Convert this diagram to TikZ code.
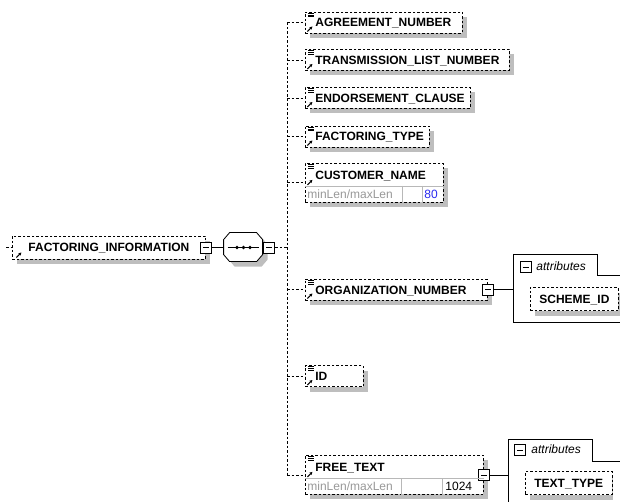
\documentclass[tikz,border=0pt]{standalone}
\usepackage{fontspec}
\setsansfont{Liberation Sans}
\usetikzlibrary{arrows.meta}
\usetikzlibrary{calc}
\usetikzlibrary{positioning}

\definecolor{shadowgray}{HTML}{BEBEBE}
\definecolor{facetgray}{HTML}{999999}
\definecolor{facetblue}{HTML}{2A2AF0}

\begin{document}
\begin{tikzpicture}[x=1pt, y=-1pt, line width=0.8pt,
    elemframe/.style = {draw, dash pattern=on 2.5pt off 2pt, fill=white},
    elemtext/.style = {font=\sffamily\bfseries\fontsize{12}{14}\selectfont, inner xsep=10pt, inner ysep=0pt, text height=9pt, text depth=0pt},
    boxw/.style = {minimum width=#1, text width=#1-20pt},
    icons/.style = {path picture={
        \foreach \dy in {1.2, 3, 4.8}
            \draw[solid, line width=0.6pt] ([shift={(3pt,-\dy pt)}]path picture bounding box.north west) -- ++(6pt,0pt);
        \draw[solid, line width=1pt, -{Stealth[length=3pt, width=3.2pt]}] ([shift={(2pt,1.5pt)}]path picture bounding box.south west) -- ++(5pt,5pt);}},
    refarrow/.style = {path picture={
        \draw[solid, line width=1pt, -{Stealth[length=3pt, width=3.2pt]}] ([shift={(4pt,1.5pt)}]path picture bounding box.south west) -- ++(5pt,5pt);}},
    shadowbox/.style = {fill=shadowgray, draw=none, inner sep=0pt, anchor=west},
    elem/.style = {elemframe, elemtext, icons, minimum height=21pt, anchor=west},
    attr/.style = {elemframe, elemtext, inner xsep=9pt, minimum height=23pt, anchor=west},
    minusbox/.style = {draw, solid, fill=white, minimum width=11pt, minimum height=11pt, inner sep=0pt,
        path picture={\draw[solid] ([xshift=2.5pt]path picture bounding box.west) -- ([xshift=-2.5pt]path picture bounding box.east);}},
    seqbox/.style = {minimum width=39pt, minimum height=29pt, inner sep=0pt},
    facetkey/.style = {font=\sffamily\fontsize{12}{14}\selectfont, text=facetgray, anchor=west, inner xsep=2pt, inner ysep=0pt},
    facetval/.style = {font=\sffamily\fontsize{12}{14}\selectfont, anchor=west, inner xsep=2pt, inner ysep=0pt},
    cellline/.style = {draw=facetgray!70, solid, line width=0.6pt},
    tabtext/.style = {font=\sffamily\itshape\fontsize{12}{14}\selectfont, anchor=west, inner sep=0pt},
    branch/.style = {dash pattern=on 2.5pt off 2pt},
    wire/.style = {solid}]

    \useasboundingbox (0,0) rectangle (620,502);

    \node[shadowbox, minimum width=193pt, minimum height=23pt] (facinfoshadow) at (17,252.5) {};
    \node[elemframe, elemtext, refarrow, minimum width=193pt, minimum height=23pt, anchor=west] (facinfo) at (12,247.5) {FACTORING\_INFORMATION};
    \node[minusbox] (facinfominus) at (facinfo.east) {};
    \node[seqbox] (seq) at (243.5,247.5) {};
    \fill[shadowgray] ([shift={(5pt,-5pt)}]seq.north west) ++(6,0) -- ++(27,0) -- ++(6,7) -- ++(0,15) -- ++(-6,7) -- ++(-27,0) -- ++(-6,-7) -- ++(0,-15) -- cycle;
    \draw[fill=white] (seq.north west) ++(6,0) -- ++(27,0) -- ++(6,7) -- ++(0,15) -- ++(-6,7) -- ++(-27,0) -- ++(-6,-7) -- ++(0,-15) -- cycle;
    \draw (seq.west) ++(4,0) -- ++(31,0);
    \foreach \dx in {-6.5, 0, 6.5}
        \fill ([xshift=\dx pt]seq.center) circle (1.8pt);
    \node[minusbox, right=0pt of seq] (seqminus) {};
    \coordinate (rootin) at (6,247.5);
    \coordinate (spine) at (287,0);

    \node[shadowbox, minimum width=157pt, minimum height=21pt] (agreeshadow) at (310,27.5) {};
    \node[elem, boxw=157pt] (agree) at (305,22.5) {AGREEMENT\_NUMBER};
    \node[shadowbox, minimum width=204pt, minimum height=21pt] (translistshadow) at (310,65) {};
    \node[elem, boxw=204pt] (translist) at (305,60) {TRANSMISSION\_LIST\_NUMBER};
    \node[shadowbox, minimum width=165pt, minimum height=21pt] (endorseshadow) at (310,103) {};
    \node[elem, boxw=165pt] (endorse) at (305,98) {ENDORSEMENT\_CLAUSE};
    \node[shadowbox, minimum width=124pt, minimum height=21pt] (factypeshadow) at (310,141.5) {};
    \node[elem, boxw=124pt] (factype) at (305,136.5) {FACTORING\_TYPE};

    \node[shadowbox, minimum width=138pt, minimum height=39pt, anchor=north west] (custshadow) at (310,168) {};
    \node[elemframe, minimum width=138pt, minimum height=39pt, anchor=north west] (cust) at (305,163) {};
    \node[elemtext, icons, minimum height=23pt, anchor=north west] (custname) at (cust.north west) {CUSTOMER\_NAME};
    \node[facetkey] (custkey) at ([yshift=-31pt]cust.north west) {minLen/maxLen};
    \node[facetval, text=facetblue] (custmax) at ([shift={(117pt,-31pt)}]cust.north west) {80};

    \node[shadowbox, minimum width=182pt, minimum height=21pt] (orgnumshadow) at (310,294.5) {};
    \node[elem, boxw=182pt] (orgnum) at (305,289.5) {ORGANIZATION\_NUMBER};
    \node[minusbox] (orgminus) at (orgnum.east) {};
    \coordinate (orgattrs) at (513,254);
    \draw (orgattrs) -- ++(84,0) -- ++(0,21) -- ++(40,0);
    \draw (orgattrs) -- ++(0,68) -- ++(124,0);
    \node[minusbox] (orgattrsminus) at (525.5,267) {};
    \node[tabtext] (orgattrslabel) at (536,266) {attributes};
    \node[shadowbox, minimum width=87pt, minimum height=23pt] (schemeidshadow) at (535,304) {};
    \node[attr, minimum width=87pt] (schemeid) at (530,299) {SCHEME\_ID};

    \node[shadowbox, minimum width=58pt, minimum height=21pt] (idshadow) at (310,381) {};
    \node[elem, boxw=58pt] (id) at (305,376) {ID};

    \node[shadowbox, minimum width=178pt, minimum height=39pt, anchor=north west] (freeshadow) at (310,460) {};
    \node[elemframe, minimum width=178pt, minimum height=39pt, anchor=north west] (free) at (305,455) {};
    \node[elemtext, icons, minimum height=23pt, anchor=north west] (freename) at (free.north west) {FREE\_TEXT};
    \node[facetkey] (freekey) at ([yshift=-31pt]free.north west) {minLen/maxLen};
    \node[facetval] (freemax) at ([shift={(138pt,-31pt)}]free.north west) {1024};
    \node[minusbox] (freeminus) at (free.east) {};
    \coordinate (freeattrs) at (508,439);
    \draw (freeattrs) -- ++(84,0) -- ++(0,22) -- ++(40,0);
    \draw (freeattrs) -- ++(0,80);
    \node[minusbox] (freeattrsminus) at (520,450) {};
    \node[tabtext] (freeattrslabel) at (531,449) {attributes};
    \node[shadowbox, minimum width=83pt, minimum height=23pt] (texttypeshadow) at (530,488) {};
    \node[attr, minimum width=83pt] (texttype) at (525,483) {TEXT\_TYPE};

    \draw[cellline] ([yshift=-23pt]cust.north west) -- ([yshift=-23pt]cust.north east);
    \draw[cellline] ([shift={(97pt,-23pt)}]cust.north west) -- ([xshift=97pt]cust.south west);
    \draw[cellline] ([shift={(117pt,-23pt)}]cust.north west) -- ([xshift=117pt]cust.south west);
    \draw[cellline] ([yshift=-23pt]free.north west) -- ([yshift=-23pt]free.north east);
    \draw[cellline] ([shift={(96pt,-23pt)}]free.north west) -- ([xshift=96pt]free.south west);
    \draw[cellline] ([shift={(137pt,-23pt)}]free.north west) -- ([xshift=137pt]free.south west);

    \draw[branch] (rootin) -- (facinfo.west);
    \draw[wire] (facinfominus.east) -- (seq.west);
    \draw[branch] (seqminus.east) -- (seqminus.east -| spine);
    \draw[branch] (agree.west -| spine) -- (free.west -| spine);
    \draw[branch] (agree.west -| spine) -- (agree.west);
    \draw[branch] (translist.west -| spine) -- (translist.west);
    \draw[branch] (endorse.west -| spine) -- (endorse.west);
    \draw[branch] (factype.west -| spine) -- (factype.west);
    \draw[branch] (cust.west -| spine) -- (cust.west);
    \draw[branch] (orgnum.west -| spine) -- (orgnum.west);
    \draw[branch] (id.west -| spine) -- (id.west);
    \draw[branch] (free.west -| spine) -- (free.west);
    \draw[wire] (orgminus.east) -- (orgminus.east -| orgattrs);
    \draw[wire] (freeminus.east) -- (freeminus.east -| freeattrs);

\end{tikzpicture}
\end{document}
